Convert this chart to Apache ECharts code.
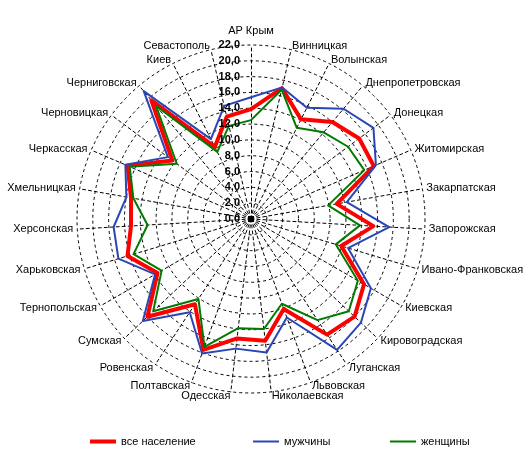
<!DOCTYPE html>
<html>
<head>
<meta charset="utf-8">
<script src="https://cdn.jsdelivr.net/npm/echarts@6/dist/echarts.min.js"></script>
<style>
html,body{margin:0;padding:0;background:#fff;}
#chart{width:529px;height:464px;}
</style>
</head>
<body>
<div id="chart"></div>
<script>
// Categories in clockwise order starting from the top
const categories = ['АР Крым','Винницкая','Волынская','Днепропетровская','Донецкая','Житомирская',
  'Закарпатская','Запорожская','Ивано-Франковская','Киевская','Кировоградская','Луганская',
  'Львовская','Николаевская','Одесская','Полтавская','Ровенская','Сумская','Тернопольская',
  'Харьковская','Херсонская','Хмельницкая','Черкасская','Черновицкая','Черниговская','Киев','Севастополь'];

const seriesNames = ['все население','мужчины','женщины'];

const allPop = [13.9,17.0,14.1,16.0,17.05,16.9,11.0,15.5,11.9,16.5,18.0,17.5,12.1,15.5,15.2,17.6,12.9,18.0,13.65,16.3,15.2,15.4,17.0,12.4,19.6,10.2,13.3];
const men    = [15.4,17.1,15.75,18.2,19.3,17.2,12.3,17.5,12.8,17.5,19.1,19.8,13.25,17.0,16.5,18.1,14.1,18.8,14.0,17.5,17.4,16.0,17.3,13.1,21.1,11.3,14.7];
const women  = [12.5,16.8,12.9,14.3,15.3,15.6,9.9,13.8,11.2,15.6,17.0,15.3,11.4,14.0,13.9,17.2,12.1,17.0,13.05,15.5,13.1,15.1,16.7,11.7,18.7,9.5,12.1];

const axisMin = 0, axisMax = 22, axisStep = 2;

// ECharts radar runs counter-clockwise; reorder so the result reads clockwise
const order = [0];
for (let i = categories.length - 1; i >= 1; i--) order.push(i);
const reorder = arr => order.map(i => arr[i]);

const C = [251, 219];
const R = 174;
const font = 'Liberation Sans, Arial, sans-serif';
const colors = ['#ff0000', '#2a46b4', '#007a00'];
const widths = [4, 2, 2];

const chart = echarts.init(document.getElementById('chart'), null, {renderer: 'canvas'});
const fmt = v => v.toFixed(1).replace('.', ',');

chart.setOption({
  animation: false,
  backgroundColor: '#fff',
  textStyle: {fontFamily: font},
  radar: {
    center: C,
    radius: R,
    startAngle: 90,
    shape: 'circle',
    splitNumber: (axisMax - axisMin) / axisStep,
    nameGap: 4,
    indicator: order.map(i => ({name: categories[i], min: axisMin, max: axisMax})),
    axisName: {
      color: '#000', fontSize: 11, fontFamily: font,
      formatter: name => name === categories[0] ? '{top|' + name + '}' : name,
      rich: {top: {color: '#000', fontSize: 11, fontFamily: font, padding: [0, 0, 5, 0]}}
    },
    splitLine: {lineStyle: {color: '#000', width: 1, type: [3, 3]}},
    splitArea: {show: false},
    axisLine: {lineStyle: {color: '#000', width: 1, type: [3, 3]}},
    axisTick: {show: false},
    axisLabel: {show: false}
  },
  polar: {center: C, radius: R},
  angleAxis: {show: false, startAngle: 90, min: 0, max: 360},
  radiusAxis: {
    min: axisMin, max: axisMax, interval: axisStep,
    axisLine: {show: false},
    axisTick: {show: false},
    splitLine: {show: false},
    axisLabel: {
      formatter: fmt, color: '#000', fontSize: 11, fontWeight: 'bold',
      fontFamily: font, margin: 11
    },
    z: 20
  },
  graphic: [{
    type: 'rect', shape: {x: C[0] - 3, y: C[1] - 3, width: 6, height: 6},
    style: {fill: '#000'}, z: 30
  }],
  legend: seriesNames.map((n, k) => ({
    data: [n],
    left: [90, 253, 390][k],
    top: 436,
    padding: 0,
    itemWidth: 26,
    itemHeight: widths[k] === 4 ? 4 : 2,
    icon: 'rect',
    textStyle: {color: '#000', fontSize: 11, fontFamily: font},
    itemStyle: {borderWidth: 0}
  })),
  series: [{
    type: 'radar',
    symbol: 'none',
    data: [allPop, men, women].map((arr, k) => ({
      name: seriesNames[k],
      value: reorder(arr),
      lineStyle: {color: colors[k], width: widths[k]},
      itemStyle: {color: colors[k]}
    }))
  }]
});
</script>
</body>
</html>
